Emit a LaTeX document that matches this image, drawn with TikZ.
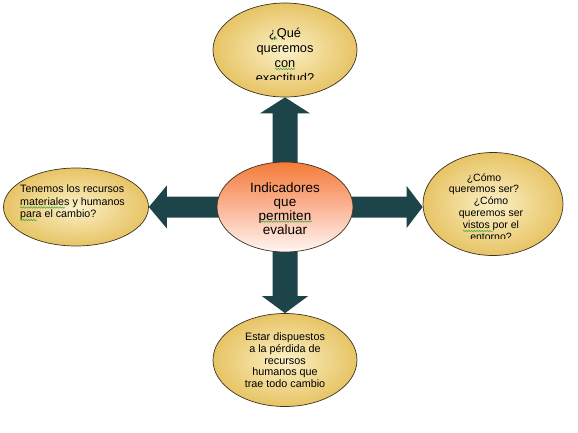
\documentclass[tikz,border=0pt]{standalone}
\usepackage{fontspec}
\setmainfont{Liberation Sans}
\usetikzlibrary{shapes.geometric,calc,backgrounds,decorations.pathmorphing}

\definecolor{arrowteal}{HTML}{1D4549}
\definecolor{goldin}{HTML}{FBF0C6}
\definecolor{goldout}{HTML}{E7C465}
\definecolor{rimline}{HTML}{3A3322}
\definecolor{squig}{HTML}{3FA53F}
\definecolor{orangetop}{HTML}{F47B38}
\definecolor{orangemid}{HTML}{FBB596}
\definecolor{orangebot}{HTML}{FFF6F2}

\tikzset{
  goal/.style={ellipse, draw=rimline, line width=0.7pt, shading=radial,
    inner color=goldin, outer color=goldout, inner sep=0pt},
  core/.style={ellipse, draw=rimline, line width=0.7pt, top color=orangetop,
    bottom color=orangebot, middle color=orangemid, inner sep=0pt},
  txt/.style={align=center, inner sep=0pt, anchor=base},
  wave/.style={draw=squig, line width=0.5pt, decorate,
    decoration={snake, amplitude=0.8pt, segment length=2.6pt}},
}

\begin{document}
\begin{tikzpicture}[x=1pt,y=-1pt]
\useasboundingbox (0,0) rectangle (578,432);
% from, to, shaft half width, head half width, head length
\newcommand{\bigarrow}[5]{
  \coordinate (s) at (#1);
  \coordinate (e) at (#2);
  \coordinate (h) at ($(e)!#5!(s)$);
  \fill[arrowteal] ($(s)!#3!90:(e)$) -- ($(h)!#3!-90:(s)$) -- ($(h)!#4!-90:(s)$) -- (e)
    -- ($(h)!#4!90:(s)$) -- ($(h)!#3!90:(s)$) -- ($(s)!#3!-90:(e)$) -- cycle;
}

% the five ellipses
\node[core, minimum width=136pt, minimum height=90pt] (core) at (285,207) {};
\node[goal, minimum width=144pt, minimum height=94pt] (top) at (285,50) {};
\node[goal, minimum width=145pt, minimum height=78pt] (left) at (76,207) {};
\node[goal, minimum width=140pt, minimum height=103pt] (right) at (493,204) {};
\node[goal, minimum width=144pt, minimum height=93pt] (bottom) at (285,360) {};

% block arrows, behind the ellipses
\begin{pgfonlayer}{background}
  \bigarrow{core.center}{top.south}{12.5pt}{25pt}{16pt}
  \bigarrow{core.center}{bottom.north}{12.5pt}{23pt}{17pt}
  \bigarrow{core.center}{left.east}{10.5pt}{21.5pt}{18pt}
  \bigarrow{core.center}{core.center -| right.west}{10.5pt}{21pt}{16pt}
\end{pgfonlayer}

% texts (base = baseline of the last line)
\begin{scope}
  \clip (200,0) rectangle (370,79.5);
  \node[txt, font=\fontsize{12.8}{14.7}\selectfont] (toptext) at (285,82)
    {¿Qué\\queremos\\con\\exactitud?};
\end{scope}
\node[txt, font=\fontsize{13.5}{14}\selectfont] (coretext) at (285,234)
  {Indicadores\\que\\permiten\\evaluar};
\node[txt, align=left, anchor=base west, font=\fontsize{10.7}{12.3}\selectfont] (lefttext) at (20,217.3)
  {Tenemos los recursos\\materiales y humanos\\para el cambio?};
\begin{scope}
  \clip (420,150) rectangle (570,238.5);
  \node[txt, font=\fontsize{10.5}{11.8}\selectfont] (righttext) at (484,192.8)
    {¿Cómo\\queremos ser?};
  \node[txt, font=\fontsize{10.5}{11.8}\selectfont] (righttext2) at (491,240)
    {¿Cómo\\queremos ser\\vistos por el\\entorno?};
\end{scope}
\node[txt, font=\fontsize{10.8}{11.8}\selectfont] (bottomtext) at (285,387.7)
  {Estar dispuestos\\a la pérdida de\\recursos\\humanos que\\trae todo cambio};

% spell-check waves
\draw[wave] (270,39) -- (277,39);
\draw[wave] (275,69) -- (295,69);
\draw[wave] (20,207.5) -- (65,207.5);
\draw[wave] (20,220) -- (37,220);
\draw[wave] (260,221.5) -- (312,221.5);
\draw[wave] (463,231) -- (493,231);
\end{tikzpicture}
\end{document}
